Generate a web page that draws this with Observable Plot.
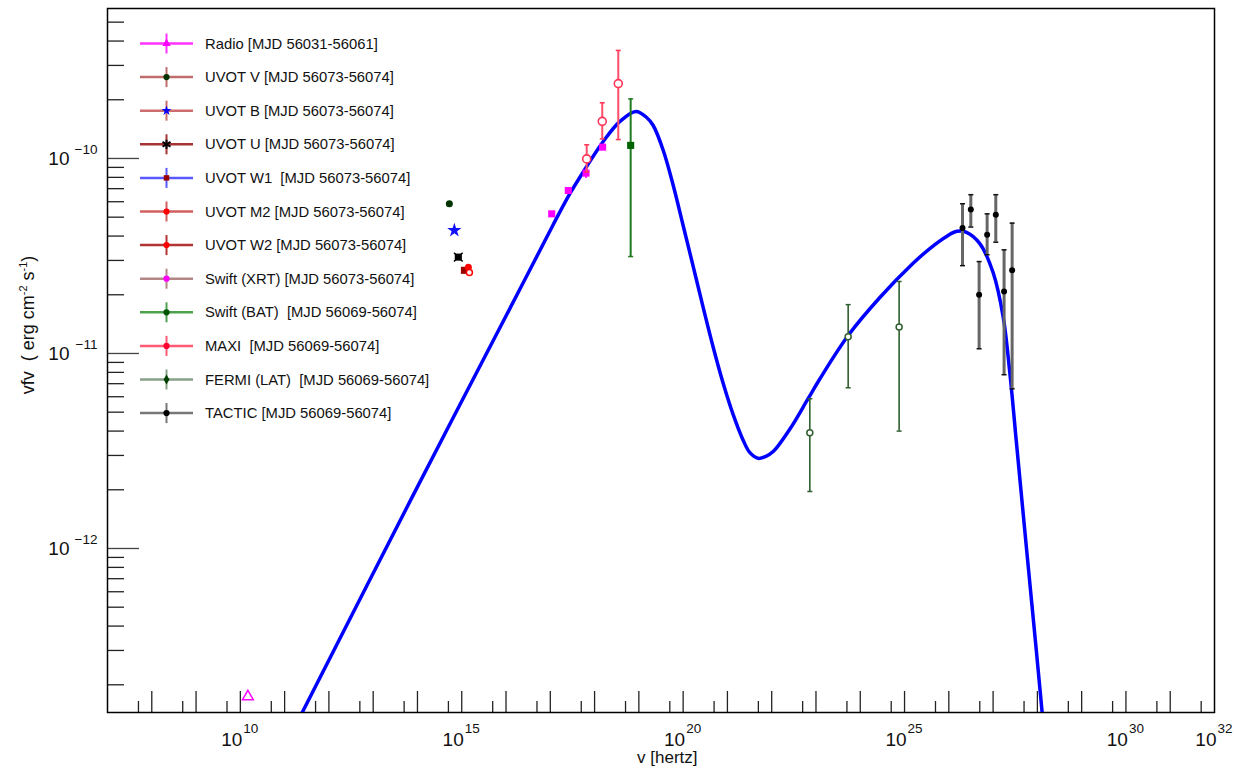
<!DOCTYPE html>
<html><head><meta charset="utf-8">
<script src="https://cdn.jsdelivr.net/npm/d3@7"></script>
<script src="https://cdn.jsdelivr.net/npm/@observablehq/plot@0.6"></script>
<style>
body{margin:0;background:#fff;font-family:"Liberation Sans",Arial,sans-serif;}
#wrap{position:relative;width:1234px;height:768px;}
svg{overflow:visible;}
</style></head><body><div id="wrap"></div>
<script>
// ---------- data ----------
const modelNu = [2.30e11,7.74e13,2.46e16,1.17e17,2.79e17,6.64e17,1.57e18,3.74e18,8.61e18,1.5e19,2.11e19,3.56e19,5.98e19,1.0e20,1.69e20,2.84e20,4.79e20,8.04e20,1.35e21,2.28e21,3.22e21,4.95e21,7.40e21,1.08e22,2.58e22,6.67e22,1.22e23,5.33e23,2.77e24,1.56e25,3.72e25,8.87e25,1.52e26,2.51e26,5.01e26,1.0e27,1.68e27,2.38e27,3.33e27,4.75e27,6.73e27,9.55e27,1.32e28];
const modelF  = [1.39e-13,1.85e-12,2.31e-11,4.59e-11,6.62e-11,9.1e-11,1.222e-10,1.549e-10,1.742e-10,1.622e-10,1.476e-10,1.099e-10,7.27e-11,4.53e-11,2.79e-11,1.72e-11,1.074e-11,7.02e-12,4.86e-12,3.58e-12,3.10e-12,2.90e-12,2.97e-12,3.14e-12,4.10e-12,5.88e-12,7.40e-12,1.236e-11,1.936e-11,2.90e-11,3.45e-11,3.98e-11,4.23e-11,4.18e-11,3.66e-11,2.60e-11,1.549e-11,8.0e-12,3.58e-12,1.53e-12,6.70e-13,2.93e-13,1.34e-13];

const radioNu = [1.48e10];
const radioF  = [1.74e-13];

const uvotBands = ["V","B","U","W1","M2","W2"];
const uvotNu = [5.25e14,6.81e14,8.37e14,1.15e15,1.41e15,1.49e15];
const uvotF  = [5.86e-11,4.28e-11,3.12e-11,2.67e-11,2.77e-11,2.6e-11];

const xrtNu = [1.076e17,2.55e17,6.4e17,1.52e18];
const xrtF  = [5.2e-11,6.85e-11,8.41e-11,1.143e-10];
const xrtLo = [5.1e-11,6.7e-11,7.9e-11,1.12e-10];
const xrtHi = [5.3e-11,7.0e-11,8.9e-11,1.17e-10];

const maxiNu = [6.64e17,1.49e18,3.43e18];
const maxiF  = [9.95e-11,1.55e-10,2.42e-10];
const maxiLo = [8.51e-11,1.26e-10,1.25e-10];
const maxiHi = [1.175e-10,1.93e-10,3.58e-10];

const batNu = [6.53e18];
const batF  = [1.167e-10];
const batLo = [3.14e-11];
const batHi = [2.02e-10];

const fermiNu = [7.26e22,5.33e23,7.55e24];
const fermiF  = [3.92e-12,1.22e-11,1.365e-11];
const fermiLo = [1.96e-12,6.67e-12,4.0e-12];
const fermiHi = [5.86e-12,1.78e-11,2.34e-11];

const tacticNu = [2.04e26,3.14e26,4.83e26,7.33e26,1.15e27,1.77e27,2.69e27];
const tacticF  = [4.40e-11,5.47e-11,2.0e-11,4.06e-11,5.14e-11,2.08e-11,2.67e-11];
const tacticLo = [2.82e-11,4.45e-11,1.057e-11,3.21e-11,3.72e-11,7.78e-12,6.59e-12];
const tacticHi = [5.86e-11,6.52e-11,2.96e-11,5.2e-11,6.52e-11,3.4e-11,4.66e-11];

// ticks and labels
const xMajorTicks = [1e8,1e9,1e10,1e11,1e12,1e13,1e14,1e15,1e16,1e17,1e18,1e19,1e20,1e21,1e22,1e23,1e24,1e25,1e26,1e27,1e28,1e29,1e30,1e31];
const xMinorTicks = [5e7,5e8,5e9,5e10,5e11,5e12,5e13,5e14,5e15,5e16,5e17,5e18,5e19,5e20,5e21,5e22,5e23,5e24,5e25,5e26,5e27,5e28,5e29,5e30,5e31];
const xLabelValues = [1e10,1e15,1e20,1e25,1e30,1e32];
const xLabelExps = ["10","15","20","25","30","32"];
const yMajorTicks = [1e-12,1e-11,1e-10];
const yMinorTicks = [2e-13,3e-13,4e-13,5e-13,6e-13,7e-13,8e-13,9e-13,2e-12,3e-12,4e-12,5e-12,6e-12,7e-12,8e-12,9e-12,2e-11,3e-11,4e-11,5e-11,6e-11,7e-11,8e-11,9e-11,2e-10,3e-10,4e-10,5e-10];
const yLabelValues = [1e-12,1e-11,1e-10];
const yLabelExps = ["\u221212","\u221211","\u221210"];

const legendLabels = ["Radio [MJD 56031-56061]","UVOT V [MJD 56073-56074]","UVOT B [MJD 56073-56074]","UVOT U [MJD 56073-56074]","UVOT W1  [MJD 56073-56074]","UVOT M2 [MJD 56073-56074]","UVOT W2 [MJD 56073-56074]","Swift (XRT) [MJD 56073-56074]","Swift (BAT)  [MJD 56069-56074]","MAXI  [MJD 56069-56074]","FERMI (LAT)  [MJD 56069-56074]","TACTIC [MJD 56069-56074]"];
const legendLineColors = ["#ff00ff","#b04848","#c04848","#900000","#3030ff","#c83838","#a00000","#a06868","#208a20","#ff3050","#6a8a6a","#555555"];
const legendMarkerColors = ["#ff00ff","#003300","#0000ff","#000000","#990000","#ff0000","#ff0000","#ff00ff","#005500","#ff0030","#004000","#000000"];
const legendMarkerShapes = ["triangle","circle","star","asterisk","square","circle","circle","circle","circle","circle","diamond","circle"];

// ---------- tables ----------
const zip = (nu, f, lo, hi) => nu.map((v,i)=>({nu:v, f:f[i], lo: lo?lo[i]:f[i], hi: hi?hi[i]:f[i]}));
const model = zip(modelNu, modelF);
const radio = zip(radioNu, radioF);
const uvot = uvotBands.map((b,i)=>({band:b, nu:uvotNu[i], f:uvotF[i]}));
const xrt = zip(xrtNu, xrtF, xrtLo, xrtHi);
const maxi = zip(maxiNu, maxiF, maxiLo, maxiHi);
const bat = zip(batNu, batF, batLo, batHi);
const fermi = zip(fermiNu, fermiF, fermiLo, fermiHi);
const tactic = zip(tacticNu, tacticF, tacticLo, tacticHi);

const W = 1234, H = 768, mL = 107, mR = 20, mT = 8, mB = 56;
const fw = W - mL - mR, fh = H - mT - mB;

const cap = {draw(ctx, size){ const r = Math.sqrt(size/Math.PI); ctx.moveTo(-r,0); ctx.lineTo(r,0); }};

function errMarks(data, color, width, capColor, capR){
  return [
    Plot.ruleX(data, {x:"nu", y1:"lo", y2:"hi", stroke:color, strokeWidth:width}),
    Plot.dot(data, {x:"nu", y:"lo", symbol:cap, r:capR, stroke:capColor, fill:"none", strokeWidth:1.5}),
    Plot.dot(data, {x:"nu", y:"hi", symbol:cap, r:capR, stroke:capColor, fill:"none", strokeWidth:1.5})
  ];
}

const uvotStyle = {
  V:{symbol:"circle", fill:"#003300", stroke:"none", r:3.5},
  B:{symbol:"star", fill:"#1010ff", stroke:"none", r:4.5},
  U:{symbol:"square", fill:"#000", stroke:"none", r:4},
  W1:{symbol:"square", fill:"#990000", stroke:"none", r:4},
  M2:{symbol:"circle", fill:"#ff0000", stroke:"none", r:3.5},
  W2:{symbol:"circle", fill:"white", stroke:"#ff0000", r:3}
};

const svg = Plot.plot({
  width: W, height: H,
  marginLeft: mL, marginRight: mR, marginTop: mT, marginBottom: mB,
  style: {fontFamily: "'Liberation Sans', Arial, sans-serif", background: "white", overflow: "visible"},
  x: {type: "log", domain: [1e7, 1e32], axis: null},
  y: {type: "log", domain: [1.442e-13, 5.875e-10], axis: null},
  marks: [
    Plot.ruleX(xMajorTicks, {x: d=>d, insetTop: fh - 21, stroke: "#222", strokeWidth: 1.3}),
    Plot.ruleX(xMinorTicks, {x: d=>d, insetTop: fh - 11, stroke: "#222", strokeWidth: 1.3}),
    Plot.ruleY(yMajorTicks, {y: d=>d, insetRight: fw - 32, stroke: "#444", strokeWidth: 1.3}),
    Plot.ruleY(yMinorTicks, {y: d=>d, insetRight: fw - 17, stroke: "#222", strokeWidth: 1.3}),
    Plot.frame({stroke: "#000", strokeWidth: 1.5}),
    // model
    Plot.line(model, {x:"nu", y:"f", stroke:"#0000ff", strokeWidth:3.5, curve:"catmull-rom", clip:true}),
    // radio
    Plot.dot(radio, {x:"nu", y:"f", symbol:"triangle", r:4, stroke:"#ff00ff", fill:"none", strokeWidth:1.5}),
    // UVOT
    ...uvotBands.map(b => Plot.dot(uvot.filter(d=>d.band===b), {x:"nu", y:"f", symbol:uvotStyle[b].symbol, r:uvotStyle[b].r, fill:uvotStyle[b].fill, stroke:uvotStyle[b].stroke, strokeWidth:1.5})),
    Plot.dot(uvot.filter(d=>d.band==="U"), {x:"nu", y:"f", symbol:"times", r:4, stroke:"#000", strokeWidth:1.5}),
    // XRT
    ...errMarks(xrt, "#ff00ff", 1.5, "#ff00ff", 0.1),
    Plot.dot(xrt, {x:"nu", y:"f", symbol:"square", r:4, fill:"#ff00ff"}),
    // MAXI
    ...errMarks(maxi, "#ff4d6a", 2, "#ff3355", 2.5),
    Plot.dot(maxi, {x:"nu", y:"f", r:4, stroke:"#ff3355", fill:"white", strokeWidth:1.6}),
    // BAT
    ...errMarks(bat, "#1f7a1f", 2, "#1f7a1f", 2.5),
    Plot.dot(bat, {x:"nu", y:"f", symbol:"square", r:4, fill:"#006400"}),
    // FERMI
    ...errMarks(fermi, "#2f5f2f", 1.6, "#2f5f2f", 2.5),
    Plot.dot(fermi, {x:"nu", y:"f", r:3, stroke:"#2f5f2f", fill:"white", strokeWidth:1.5}),
    // TACTIC
    ...errMarks(tactic, "#666666", 3, "#111", 2.5),
    Plot.dot(tactic, {x:"nu", y:"f", r:3, fill:"#000"}),
    // tick labels
    Plot.text(xLabelValues, {x:d=>d, frameAnchor:"bottom", text:()=>"10", textAnchor:"end", lineAnchor:"bottom", dx:2, dy:33, fontSize:19, fill:"#111"}),
    Plot.text(xLabelValues, {x:d=>d, frameAnchor:"bottom", text:(d,i)=>xLabelExps[i], textAnchor:"start", lineAnchor:"bottom", dx:3, dy:20, fontSize:13.5, fill:"#111"}),
    Plot.text(yLabelValues, {y:d=>d, frameAnchor:"left", text:()=>"10", textAnchor:"end", lineAnchor:"bottom", dx:-38, dy:7, fontSize:19, fill:"#111"}),
    Plot.text(yLabelValues, {y:d=>d, frameAnchor:"left", text:(d,i)=>yLabelExps[i], textAnchor:"end", lineAnchor:"bottom", dx:-10, dy:-4, fontSize:13.5, fill:"#111"}),
    Plot.text(["v [hertz]"], {frameAnchor:"bottom-left", text:d=>d, textAnchor:"end", lineAnchor:"bottom", dx:697-mL, dy:50, fontSize:17, fill:"#111"})
  ]
});
document.getElementById("wrap").appendChild(svg);

// y axis title with superscripts
const s = d3.select(svg);
const yt = s.append("text")
  .attr("transform", "translate(34,325) rotate(-90)")
  .attr("text-anchor", "middle")
  .attr("font-size", 18).attr("fill", "#111")
  .style("white-space", "pre");
yt.append("tspan").text("vfv  ( erg cm");
yt.append("tspan").attr("font-size", 11).attr("dy", -7).text("-2");
yt.append("tspan").attr("dy", 7).text(" s");
yt.append("tspan").attr("font-size", 11).attr("dy", -7).text("-1");
yt.append("tspan").attr("dy", 7).text(")");

// legend
const lg = s.append("g").attr("text-anchor", "start");
const shapes = {triangle:d3.symbolTriangle, circle:d3.symbolCircle, star:d3.symbolStar, asterisk:d3.symbolAsterisk, square:d3.symbolSquare, diamond:d3.symbolDiamond};
legendLabels.forEach((lab, i) => {
  const cy = 43.5 + i * 33.6;
  const g = lg.append("g").attr("transform", `translate(0,${cy})`);
  g.append("line").attr("x1", 140).attr("x2", 193).attr("y1", 0).attr("y2", 0)
    .attr("stroke", legendLineColors[i]).attr("stroke-width", 2.5).attr("stroke-opacity", 0.8);
  g.append("line").attr("x1", 166.5).attr("x2", 166.5).attr("y1", -10).attr("y2", 10)
    .attr("stroke", legendLineColors[i]).attr("stroke-width", 2).attr("stroke-opacity", 0.8);
  const sh = legendMarkerShapes[i];
  const path = d3.symbol(shapes[sh], sh === "asterisk" ? 60 : 30)();
  g.append("path").attr("d", path).attr("transform", "translate(166.5,0)")
    .attr("fill", sh === "asterisk" ? "none" : legendMarkerColors[i])
    .attr("stroke", sh === "asterisk" ? legendMarkerColors[i] : "none").attr("stroke-width", 2);
  g.append("text").attr("x", 205).attr("y", 5).attr("font-size", 14.8).attr("fill", "#111")
    .attr("text-anchor", "start")
    .style("white-space", "pre").text(lab);
});
</script></body></html>
